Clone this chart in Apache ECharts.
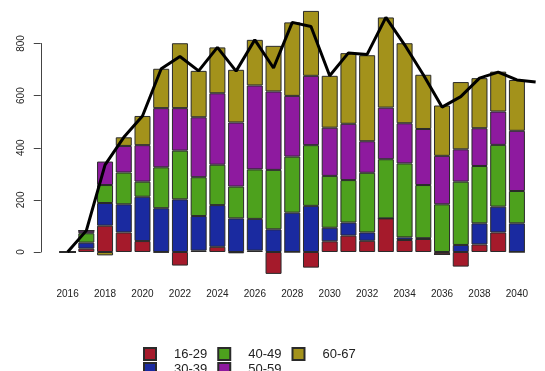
<!DOCTYPE html>
<html><head><meta charset="utf-8">
<script src="https://cdn.jsdelivr.net/npm/echarts@6/dist/echarts.min.js"></script>
<style>html,body{margin:0;padding:0;background:#fff}#c{width:545px;height:371px}</style>
</head><body><div id="c"></div>
<script>
const years = ['2016','2017','2018','2019','2020','2021','2022','2023','2024','2025','2026','2027','2028','2029','2030','2031','2032','2033','2034','2035','2036','2037','2038','2039','2040','2041'];
const age16_29 = [0, 13, 101, 75, 42, -2, -52, 5, 20, -5, 5, -84, 0, -60, 41, 63, 43, 129, 46, 50, -9, -56, 29, 75, 0, null];
const age30_39 = [0, 23, 87, 108, 170, 168, 202, 133, 160, 129, 122, 87, 151, 177, 52, 50, 32, 0, 10, 3, 0, 27, 81, 99, 110, null];
const age40_49 = [0, 36, 69, 122, 58, 157, 187, 149, 155, 122, 190, 228, 215, 233, 199, 163, 229, 227, 284, 204, 183, 243, 220, 237, 124, null];
const age50_59 = [0, 10, 90, 102, 140, 227, 163, 230, 274, 246, 322, 301, 233, 266, 185, 216, 121, 198, 154, 215, 186, 124, 145, 128, 231, null];
const age60_67 = [0, 0, -13, 33, 112, 151, 249, 178, 176, 202, 175, 175, 282, 249, 199, 271, 330, 346, 307, 208, 193, 258, 192, 153, 195, null];
const totalLine = [0, 82, 334, 440, 522, 703, 750, 695, 785, 694, 814, 706, 881, 865, 676, 764, 758, 900, 795, 680, 556, 596, 667, 690, 660, 652];
const yTicks = [0, 200, 400, 600, 800];

const groups = [
  {name:'16-29', data:age16_29, color:'#A51A2B'},
  {name:'30-39', data:age30_39, color:'#1A2AA0'},
  {name:'40-49', data:age40_49, color:'#4DA11D'},
  {name:'50-59', data:age50_59, color:'#8E1A9F'},
  {name:'60-67', data:age60_67, color:'#A3921B'}
];

const chart = echarts.init(document.getElementById('c'), null, {renderer:'canvas'});
const series = groups.map(g => ({
  name: g.name, type: 'bar', stack: 'total', data: g.data, barWidth: 16, clip: false,
  itemStyle: {color: g.color, borderColor: '#2a2a2a', borderWidth: 1},
  emphasis: {disabled: true}
}));
series.push({
  name: 'total', type: 'line', data: totalLine, clip: false, showSymbol: false, symbol: 'none',
  lineStyle: {color: '#000', width: 3}, z: 5, emphasis: {disabled: true}
});
const legendText = {fontSize: 13, color: '#222', fontFamily: 'Liberation Sans', padding: [0,0,0,13]};
chart.setOption({
  animation: false,
  backgroundColor: '#fff',
  textStyle: {fontFamily: 'Liberation Sans'},
  grid: {left: 58.25, width: 507, top: 43.5, height: 208.5, containLabel: false},
  xAxis: {
    type: 'category', data: years, boundaryGap: true,
    axisLine: {show: false}, axisTick: {show: false},
    axisLabel: {interval: 1, margin: 37, fontSize: 10, color: '#222'}
  },
  yAxis: {
    type: 'value', min: 0, max: 800, interval: 200, offset: 17.5,
    axisLine: {show: true, lineStyle: {color: '#444', width: 1}},
    axisTick: {show: true, length: 7, lineStyle: {color: '#444'}},
    splitLine: {show: false},
    axisLabel: {rotate: 90, margin: 15, fontSize: 10, color: '#222',
      formatter: v => yTicks.includes(v) ? String(v) : ''}
  },
  legend: [
    {data: ['16-29','40-49','60-67'], left: 143, top: 347, padding: 0, itemWidth: 12, itemHeight: 12, itemGap: 10,
     icon: 'rect', textStyle: legendText, selectedMode: false},
    {data: ['30-39','50-59'], left: 143, top: 362, padding: 0, itemWidth: 12, itemHeight: 12, itemGap: 10,
     icon: 'rect', textStyle: legendText, selectedMode: false}
  ],
  series: series
});
</script></body></html>
